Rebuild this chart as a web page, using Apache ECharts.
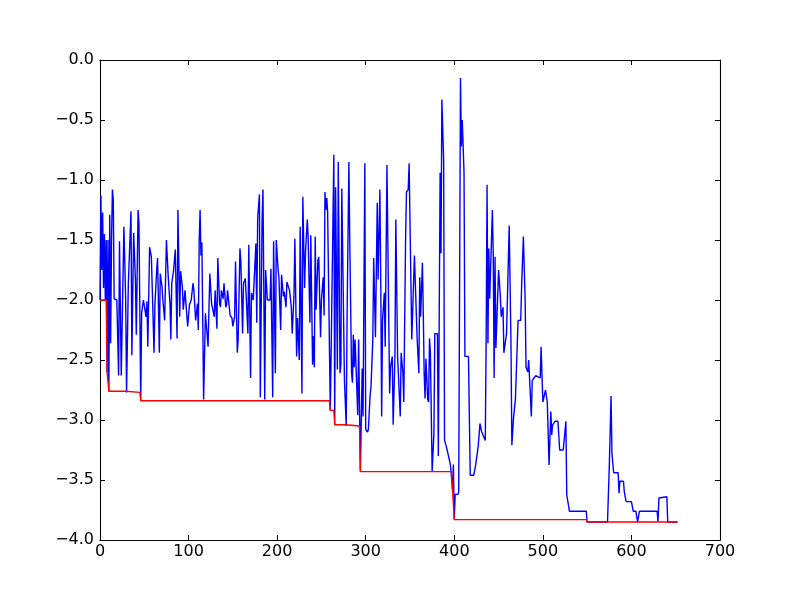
<!DOCTYPE html>
<html><head><meta charset="utf-8">
<script src="https://cdn.jsdelivr.net/npm/echarts@6/dist/echarts.min.js"></script>
<style>html,body{margin:0;background:#fff}#c{width:800px;height:600px}</style>
</head><body><div id="c"></div>
<script>
// Blue trace: [index, value]
const blueLine = [
[0,-2.0],[1,-1.13],[2,-1.75],[3,-1.27],[4,-1.9],[5,-1.45],[6,-2.0],[7,-1.5],[8,-2.6],[9,-1.5],
[10,-2.76],[11,-1.29],[12,-2.36],[13,-1.51],[14,-1.08],[15,-1.17],[16,-1.99],[17,-2.0],[19,-2.0],[21,-2.63],
[22,-1.51],[24,-2.63],[27,-1.39],[29,-2.0],[30,-2.77],[32,-1.86],[35,-1.26],[36,-2.46],[38,-1.44],[40,-1.83],
[41,-2.29],[43,-1.25],[44,-1.36],[46,-2.84],[47,-2.11],[49,-2.0],[51,-2.0],[52,-2.14],[53,-2.01],[54,-2.39],
[56,-1.56],[58,-1.64],[60,-2.17],[61,-2.44],[62,-2.04],[64,-1.75],[65,-1.65],[67,-2.44],[68,-1.78],[70,-1.89],
[71,-2.0],[73,-2.17],[75,-1.5],[77,-1.8],[79,-2.03],[80,-2.33],[81,-1.86],[83,-1.76],[85,-1.58],[87,-2.32],
[88,-1.25],[90,-2.14],[91,-1.76],[93,-1.89],[94,-2.08],[96,-1.92],[97,-2.03],[99,-2.22],[101,-2.04],[103,-2.0],
[105,-1.86],[106,-1.92],[108,-2.17],[110,-2.03],[111,-2.25],[112,-1.51],[113,-1.25],[114,-1.63],[115,-1.52],[117,-2.83],
[119,-2.11],[122,-2.39],[124,-1.78],[126,-2.03],[128,-2.04],[129,-2.14],[130,-1.92],[132,-2.24],[133,-1.65],[135,-2.03],
[136,-2.06],[137,-1.92],[139,-1.99],[140,-1.86],[142,-2.06],[143,-2.04],[144,-1.92],[146,-2.06],[147,-2.13],[149,-2.15],
[150,-2.22],[152,-2.14],[153,-1.68],[155,-2.44],[156,-2.33],[158,-1.57],[159,-1.68],[161,-2.28],[162,-1.86],[164,-1.82],
[165,-1.96],[167,-2.28],[168,-1.54],[170,-2.65],[171,-1.94],[173,-2.0],[174,-1.99],[176,-1.53],[177,-2.19],[178,-1.32],
[180,-1.12],[181,-2.81],[183,-1.33],[184,-1.08],[186,-2.83],[187,-1.75],[189,-2.0],[190,-1.99],[192,-2.0],[193,-1.74],
[195,-2.81],[196,-1.51],[198,-2.61],[199,-1.5],[201,-1.74],[202,-1.81],[204,-2.25],[205,-1.79],[207,-1.97],[208,-1.93],
[210,-2.06],[211,-1.85],[213,-1.86],[214,-1.92],[216,-2.06],[217,-2.28],[219,-1.97],[220,-1.49],[222,-2.47],[223,-2.15],
[225,-2.5],[226,-1.39],[228,-2.78],[229,-1.14],[231,-1.9],[232,-1.61],[234,-1.33],[235,-1.47],[237,-2.19],[238,-1.46],
[240,-2.54],[241,-2.3],[242,-2.56],[243,-1.47],[244,-2.08],[246,-1.67],[247,-1.64],[249,-2.31],[250,-2.0],[252,-1.81],
[253,-2.13],[254,-1.1],[255,-1.25],[256,-1.15],[257,-1.26],[260,-2.92],[261,-2.42],[263,-2.42],[264,-0.79],[265,-3.04],
[266,-1.06],[268,-2.58],[269,-0.85],[271,-2.61],[272,-2.53],[273,-1.07],[275,-1.08],[276,-2.67],[278,-3.05],[279,-2.11],
[281,-0.85],[282,-1.5],[284,-2.6],[285,-2.69],[286,-2.29],[287,-2.56],[288,-2.33],[290,-2.33],[291,-2.96],[292,-2.33],
[294,-3.43],[295,-3.0],[296,-2.57],[297,-2.97],[299,-0.86],[300,-3.08],[302,-3.1],[303,-3.08],[305,-2.79],[306,-2.72],
[308,-2.33],[309,-1.65],[310,-1.65],[311,-2.31],[313,-1.19],[314,-1.83],[316,-1.08],[317,-1.85],[318,-2.97],[319,-2.17],
[321,-1.94],[322,-2.39],[324,-0.875],[325,-1.53],[327,-2.78],[328,-2.56],[330,-2.47],[331,-3.04],[333,-2.47],[334,-1.33],
[336,-2.47],[337,-2.47],[339,-2.97],[340,-2.44],[342,-2.61],[343,-2.85],[345,-1.5],[346,-1.1],[348,-1.08],[349,-0.86],
[351,-0.86],[352,-2.33],[355,-1.63],[357,-1.63],[358,-2.31],[360,-2.61],[361,-1.81],[362,-2.14],[364,-1.69],[365,-2.11],
[366,-2.61],[367,-2.82],[368,-2.49],[370,-2.83],[371,-2.85],[372,-2.32],[373,-2.44],[375,-3.43],[377,-3.11],[378,-2.28],
[381,-2.28],[382,-3.3],[384,-0.94],[385,-1.61],[386,-0.33],[388,-0.83],[389,-3.17],[391,-3.22],[393,-3.22],[395,-3.35],
[396,-3.4],[398,-3.58],[399,-3.37],[400,-3.83],[401,-3.62],[404,-3.62],[405,-3.6],[407,-0.15],[408,-0.72],[409,-0.5],
[411,-0.94],[412,-2.47],[416,-2.47],[418,-3.46],[422,-3.46],[424,-3.38],[426,-3.38],[427,-3.22],[429,-3.03],[431,-3.1],
[433,-3.11],[435,-3.17],[436,-2.31],[437,-1.04],[438,-2.36],[439,-1.57],[440,-1.99],[443,-1.25],[444,-1.63],[445,-2.65],
[446,-1.64],[447,-2.4],[449,-2.4],[450,-1.75],[452,-1.97],[453,-2.14],[455,-2.06],[456,-2.44],[458,-2.44],[459,-2.28],
[461,-2.28],[462,-1.38],[464,-2.36],[465,-3.21],[467,-2.97],[469,-2.83],[470,-2.83],[472,-2.17],[475,-2.17],[476,-1.89],
[478,-1.47],[480,-2.0],[481,-2.56],[482,-2.56],[483,-2.6],[484,-2.5],[486,-2.5],[487,-2.97],[488,-2.67],[490,-2.65],
[492,-2.63],[494,-2.64],[497,-2.65],[498,-2.39],[500,-2.85],[502,-2.85],[503,-2.75],[505,-2.85],[506,-3.11],[507,-3.375],
[509,-2.93],[510,-3.125],[511,-3.04],[514,-3.01],[517,-3.01],[519,-3.25],[523,-3.25],[526,-3.01],[527,-3.625],[529,-3.64],
[530,-3.76],[549,-3.76],[550,-3.85],[573,-3.85],[575,-3.39],[576,-3.39],[577,-2.8],[578,-3.28],[579,-3.28],[580,-3.44],
[585,-3.44],[586,-3.61],[587,-3.51],[591,-3.51],[592,-3.6],[594,-3.68],[600,-3.68],[602,-3.76],[605,-3.76],[607,-3.85],
[609,-3.76],[629,-3.76],[630,-3.85],[631,-3.65],[640,-3.64],[641,-3.85],[652,-3.85]
];
// Red running-best trace (step corners)
const redLine = [
[0,-2.0],[7,-2.0],[8,-2.6],[9,-2.6],[10,-2.76],[29,-2.76],[30,-2.77],[45,-2.77],[46,-2.84],[259,-2.84],
[260,-2.92],[264,-2.92],[265,-3.04],[277,-3.04],[278,-3.05],[293,-3.05],[294,-3.43],[397,-3.43],[398,-3.58],[399,-3.58],
[400,-3.83],[549,-3.83],[550,-3.85],[652,-3.85]
];
const xRange = [0, 700, 100];
const yRange = [-4, 0, 0.5];

const fmtY = v => v.toFixed(1).replace('-', '\u2212');
const font = {fontFamily: 'DejaVu Sans', fontSize: 16, color: '#000'};
const tick = {show: true, inside: true, length: 5, lineStyle: {color: '#000', width: 1}};
const line = {show: true, onZero: false, lineStyle: {color: '#000', width: 1.1}};

const chart = echarts.init(document.getElementById('c'), null, {renderer: 'canvas'});
chart.setOption({
  animation: false,
  backgroundColor: '#fff',
  grid: {left: 100, top: 60, width: 620, height: 480, containLabel: false},
  xAxis: [
    {type: 'value', min: xRange[0], max: xRange[1], interval: xRange[2], position: 'bottom',
     axisLine: line, axisTick: tick, splitLine: {show: false},
     axisLabel: Object.assign({margin: 4}, font)},
    {type: 'value', min: xRange[0], max: xRange[1], interval: xRange[2], position: 'top',
     axisLine: line, axisTick: tick, splitLine: {show: false}, axisLabel: {show: false}}
  ],
  yAxis: [
    {type: 'value', min: yRange[0], max: yRange[1], interval: yRange[2], position: 'left',
     axisLine: line, axisTick: tick, splitLine: {show: false},
     axisLabel: Object.assign({margin: 6, formatter: fmtY}, font)},
    {type: 'value', min: yRange[0], max: yRange[1], interval: yRange[2], position: 'right',
     axisLine: line, axisTick: tick, splitLine: {show: false}, axisLabel: {show: false}}
  ],
  series: [
    {type: 'line', data: blueLine, showSymbol: false, symbol: 'none',
     lineStyle: {color: '#0000ff', width: 1.4}, itemStyle: {color: '#0000ff'}, z: 2},
    {type: 'line', data: redLine, showSymbol: false, symbol: 'none',
     lineStyle: {color: '#ff0000', width: 1.4}, itemStyle: {color: '#ff0000'}, z: 3}
  ]
});
</script></body></html>
